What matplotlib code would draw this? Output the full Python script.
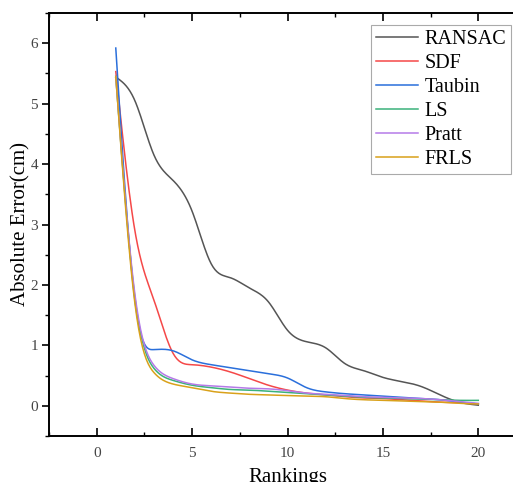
import numpy as np
import matplotlib
matplotlib.use("Agg")
import matplotlib.pyplot as plt
from matplotlib.ticker import MultipleLocator

plt.rcParams['font.family'] = ['Liberation Serif', 'DejaVu Serif']

rankings = list(range(1, 21))
ransac = [5.44, 5.05, 4.15, 3.73, 3.22, 2.35, 2.12, 1.95, 1.72, 1.25, 1.06, 0.96, 0.70, 0.58, 0.47, 0.40, 0.32, 0.18, 0.06, 0.01]
sdf    = [5.53, 2.90, 1.75, 0.87, 0.68, 0.64, 0.56, 0.45, 0.34, 0.26, 0.21, 0.18, 0.15, 0.13, 0.12, 0.10, 0.08, 0.06, 0.05, 0.03]
taubin = [5.92, 1.75, 0.93, 0.91, 0.76, 0.68, 0.63, 0.58, 0.53, 0.46, 0.30, 0.23, 0.20, 0.18, 0.16, 0.14, 0.12, 0.10, 0.06, 0.03]
ls     = [5.45, 1.80, 0.62, 0.42, 0.34, 0.30, 0.27, 0.26, 0.24, 0.22, 0.20, 0.18, 0.16, 0.14, 0.13, 0.12, 0.11, 0.10, 0.09, 0.09]
pratt  = [5.45, 1.85, 0.67, 0.45, 0.36, 0.33, 0.31, 0.29, 0.28, 0.25, 0.21, 0.19, 0.17, 0.15, 0.14, 0.13, 0.12, 0.10, 0.07, 0.04]
frls   = [5.45, 1.70, 0.55, 0.36, 0.30, 0.24, 0.21, 0.19, 0.18, 0.17, 0.16, 0.15, 0.12, 0.10, 0.09, 0.08, 0.07, 0.06, 0.04, 0.03]

names = ['RANSAC', 'SDF', 'Taubin', 'LS', 'Pratt', 'FRLS']
series = [ransac, sdf, taubin, ls, pratt, frls]
colors = ['#555555', '#f54848', '#2a6fdb', '#3bb27a', '#b57ae8', '#d9a11a']


def spline_line(x, y, n=20):
    """Natural cubic spline rendering of the line through the data points."""
    x = np.asarray(x, float)
    y = np.asarray(y, float)
    m = len(x)
    h = np.diff(x)
    A = np.zeros((m, m))
    b = np.zeros(m)
    A[0, 0] = 1
    A[-1, -1] = 1
    for i in range(1, m - 1):
        A[i, i - 1] = h[i - 1]
        A[i, i] = 2 * (h[i - 1] + h[i])
        A[i, i + 1] = h[i]
        b[i] = 6 * ((y[i + 1] - y[i]) / h[i] - (y[i] - y[i - 1]) / h[i - 1])
    M = np.linalg.solve(A, b)
    xs, ys = [], []
    for i in range(m - 1):
        t = np.linspace(x[i], x[i + 1], n, endpoint=(i == m - 2))
        a = x[i + 1] - t
        c = t - x[i]
        s = (M[i] * a ** 3 + M[i + 1] * c ** 3) / (6 * h[i]) \
            + (y[i] / h[i] - M[i] * h[i] / 6) * a \
            + (y[i + 1] / h[i] - M[i + 1] * h[i] / 6) * c
        xs.append(t)
        ys.append(s)
    return np.concatenate(xs), np.concatenate(ys)


fig = plt.figure(figsize=(5.13, 4.82), dpi=100)
ax = fig.add_axes([49 / 513, 1 - 436 / 482, 477 / 513, 423 / 482])

for name, vals, col in zip(names, series, colors):
    xs, ys = spline_line(rankings, vals)
    ax.plot(xs, ys, color=col, lw=1.1, label=name)

ax.set_xlim(-2.5, 22.5)
ax.set_ylim(-0.5, 6.5)
ax.xaxis.set_major_locator(MultipleLocator(5))
ax.xaxis.set_minor_locator(MultipleLocator(2.5))
ax.yaxis.set_major_locator(MultipleLocator(1))
ax.yaxis.set_minor_locator(MultipleLocator(0.5))

ax.tick_params(axis='x', which='both', direction='in', top=True, bottom=True,
               labelsize=11, labelcolor='#444444', pad=8)
ax.tick_params(axis='x', which='major', length=6, width=1.2)
ax.tick_params(axis='x', which='minor', length=3, width=1.0)
ax.tick_params(axis='y', which='both', direction='out', left=True, right=False,
               labelsize=11, labelcolor='#444444', pad=3)
ax.tick_params(axis='y', which='major', length=5, width=1.2)
ax.tick_params(axis='y', which='minor', length=3, width=1.0)

for sp in ax.spines.values():
    sp.set_linewidth(1.4)

ax.set_xlabel('Rankings', fontsize=15, labelpad=6)
ax.set_ylabel('Absolute Error(cm)', fontsize=15, labelpad=0)

leg = fig.legend(loc='upper right', bbox_to_anchor=(511 / 513, 1 - 25 / 482),
                 bbox_transform=fig.transFigure, borderaxespad=0,
                 fontsize=14.5, frameon=True, fancybox=False, framealpha=1,
                 edgecolor='#aaaaaa', handlelength=2.1, handletextpad=0.3,
                 labelspacing=0.24, borderpad=0.25)
leg.get_frame().set_linewidth(0.8)

fig.savefig('out.png', dpi=100)
